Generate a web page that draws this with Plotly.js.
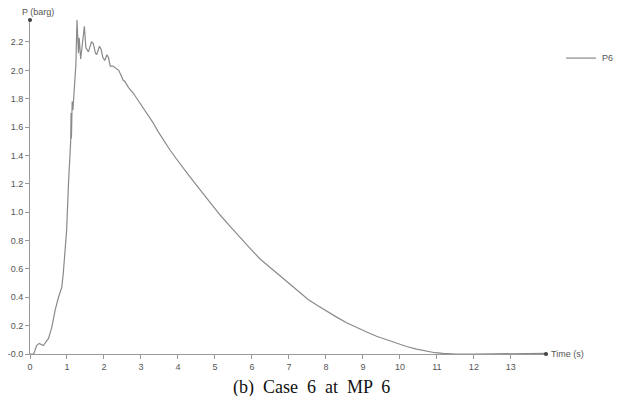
<!DOCTYPE html>
<html>
<head>
<meta charset="utf-8">
<script src="https://cdn.plot.ly/plotly-3.0.1.min.js"></script>
<style>
html,body{margin:0;padding:0;background:#fff;}
#chart{width:622px;height:396px;}
</style>
</head>
<body>
<div id="chart"></div>
<script>
// Time (s)
const timeS = [0, 0.1, 0.18, 0.25, 0.36, 0.5, 0.59, 0.68, 0.77, 0.86, 0.9, 0.95, 0.99, 1.04,
  1.08, 1.10, 1.11, 1.12, 1.14, 1.16, 1.18, 1.20, 1.21, 1.22, 1.24, 1.27, 1.31, 1.33, 1.37, 1.47, 1.51,
  1.58, 1.66, 1.71, 1.77, 1.80, 1.88, 1.92, 1.97, 2.02, 2.08, 2.12, 2.17, 2.24, 2.30, 2.36, 2.40, 2.47,
  2.52, 2.57, 2.66, 2.79, 2.92, 3.06, 3.2, 3.33, 3.46, 3.6, 3.78, 3.96, 4.14, 4.32, 4.59, 4.86,
  5.14, 5.41, 5.68, 5.95, 6.22, 6.49, 6.76, 7.03, 7.30, 7.52, 7.75, 8.02, 8.29, 8.56, 8.83, 9.1, 9.37,
  9.64, 9.91, 10.18, 10.45, 10.72, 10.95, 11.17, 11.5, 12, 12.5, 13, 13.5, 13.95];
// Pressure P6 (barg)
const pressureP6 = [0, 0, 0.06, 0.075, 0.06, 0.11, 0.19, 0.31, 0.40, 0.47, 0.57, 0.73, 0.87, 1.2,
  1.46, 1.50, 1.70, 1.52, 1.78, 1.72, 1.80, 1.92, 1.88, 2.00, 2.04, 2.355, 2.12, 2.23, 2.08, 2.31, 2.16,
  2.13, 2.20, 2.19, 2.12, 2.11, 2.17, 2.15, 2.09, 2.07, 2.11, 2.09, 2.03, 2.03, 2.02, 2.01, 2.00, 1.96,
  1.93, 1.92, 1.88, 1.84, 1.79, 1.73, 1.68, 1.63, 1.57, 1.51, 1.44, 1.375, 1.31, 1.25, 1.16, 1.07,
  0.98, 0.90, 0.82, 0.745, 0.67, 0.61, 0.55, 0.49, 0.43, 0.385, 0.345, 0.30, 0.26, 0.22, 0.185, 0.155, 0.125,
  0.10, 0.075, 0.053, 0.034, 0.019, 0.009, 0.004, 0, 0, 0, 0, 0, 0.004];

const seriesName = "P6";
const yTickVals = [0, 0.2, 0.4, 0.6, 0.8, 1.0, 1.2, 1.4, 1.6, 1.8, 2.0, 2.2];
const yTickText = ["-0.0", "0.2", "0.4", "0.6", "0.8", "1.0", "1.2", "1.4", "1.6", "1.8", "2.0", "2.2"];
const xTickVals = [0,1,2,3,4,5,6,7,8,9,10,11,12,13];
const xTickText = ["0","1","2","3","4","5","6","7","8","9","10","11","12","13"];

const tickFont = {family: "Liberation Sans, Arial, sans-serif", size: 9, color: "#555"};
const lineColor = "#8a8a8a";

const trace = {
  x: timeS, y: pressureP6, type: "scatter", mode: "lines", name: seriesName, showlegend: false,
  line: {color: lineColor, width: 1.2}
};

const layout = {
  width: 622, height: 396,
  margin: {l: 30, r: 76, t: 20, b: 42},
  paper_bgcolor: "#fff", plot_bgcolor: "#fff",
  showlegend: false,
  xaxis: {
    range: [0, 13.95], showgrid: false, zeroline: false, showline: true, linecolor: "#999", linewidth: 1,
    ticks: "outside", ticklen: 4, tickcolor: "#999", tickvals: xTickVals, ticktext: xTickText, tickfont: tickFont
  },
  yaxis: {
    range: [0, 2.355], showgrid: false, zeroline: false, showline: true, linecolor: "#999", linewidth: 1,
    ticks: "outside", ticklen: 4, tickcolor: "#999", tickvals: yTickVals, ticktext: yTickText, tickfont: tickFont
  },
  shapes: [
    {type: "circle", xref: "paper", yref: "paper", x0: -0.004, x1: 0.004, y0: 0.994, y1: 1.006, fillcolor: "#444", line: {width: 0}},
    {type: "circle", xref: "paper", yref: "paper", x0: 0.996, x1: 1.004, y0: -0.006, y1: 0.006, fillcolor: "#444", line: {width: 0}},
    // legend sample line
    {type: "line", xref: "paper", yref: "paper", x0: 1.0388, x1: 1.0969, y0: 0.886, y1: 0.886, line: {color: lineColor, width: 1.2}}
  ],
  annotations: [
    {text: seriesName, xref: "paper", yref: "paper", x: 1.1047, y: 0.886, xanchor: "left", yanchor: "middle", showarrow: false, font: tickFont},
    {text: "P (barg)", xref: "paper", yref: "paper", x: 0.0155, y: 1.024, xanchor: "center", yanchor: "middle", showarrow: false, font: tickFont},
    {text: "Time (s)", xref: "paper", yref: "paper", x: 1, y: 0, xshift: 3, xanchor: "left", yanchor: "middle", showarrow: false, font: tickFont},
    {text: "(b)  Case  6  at  MP  6", xref: "paper", yref: "paper", x: 0.5446, y: -0.099, xanchor: "center", yanchor: "middle", showarrow: false,
     font: {family: "Liberation Serif, Times New Roman, serif", size: 18, color: "#111"}}
  ]
};

Plotly.newPlot("chart", [trace], layout, {displayModeBar: false, staticPlot: true});
</script>
</body>
</html>
